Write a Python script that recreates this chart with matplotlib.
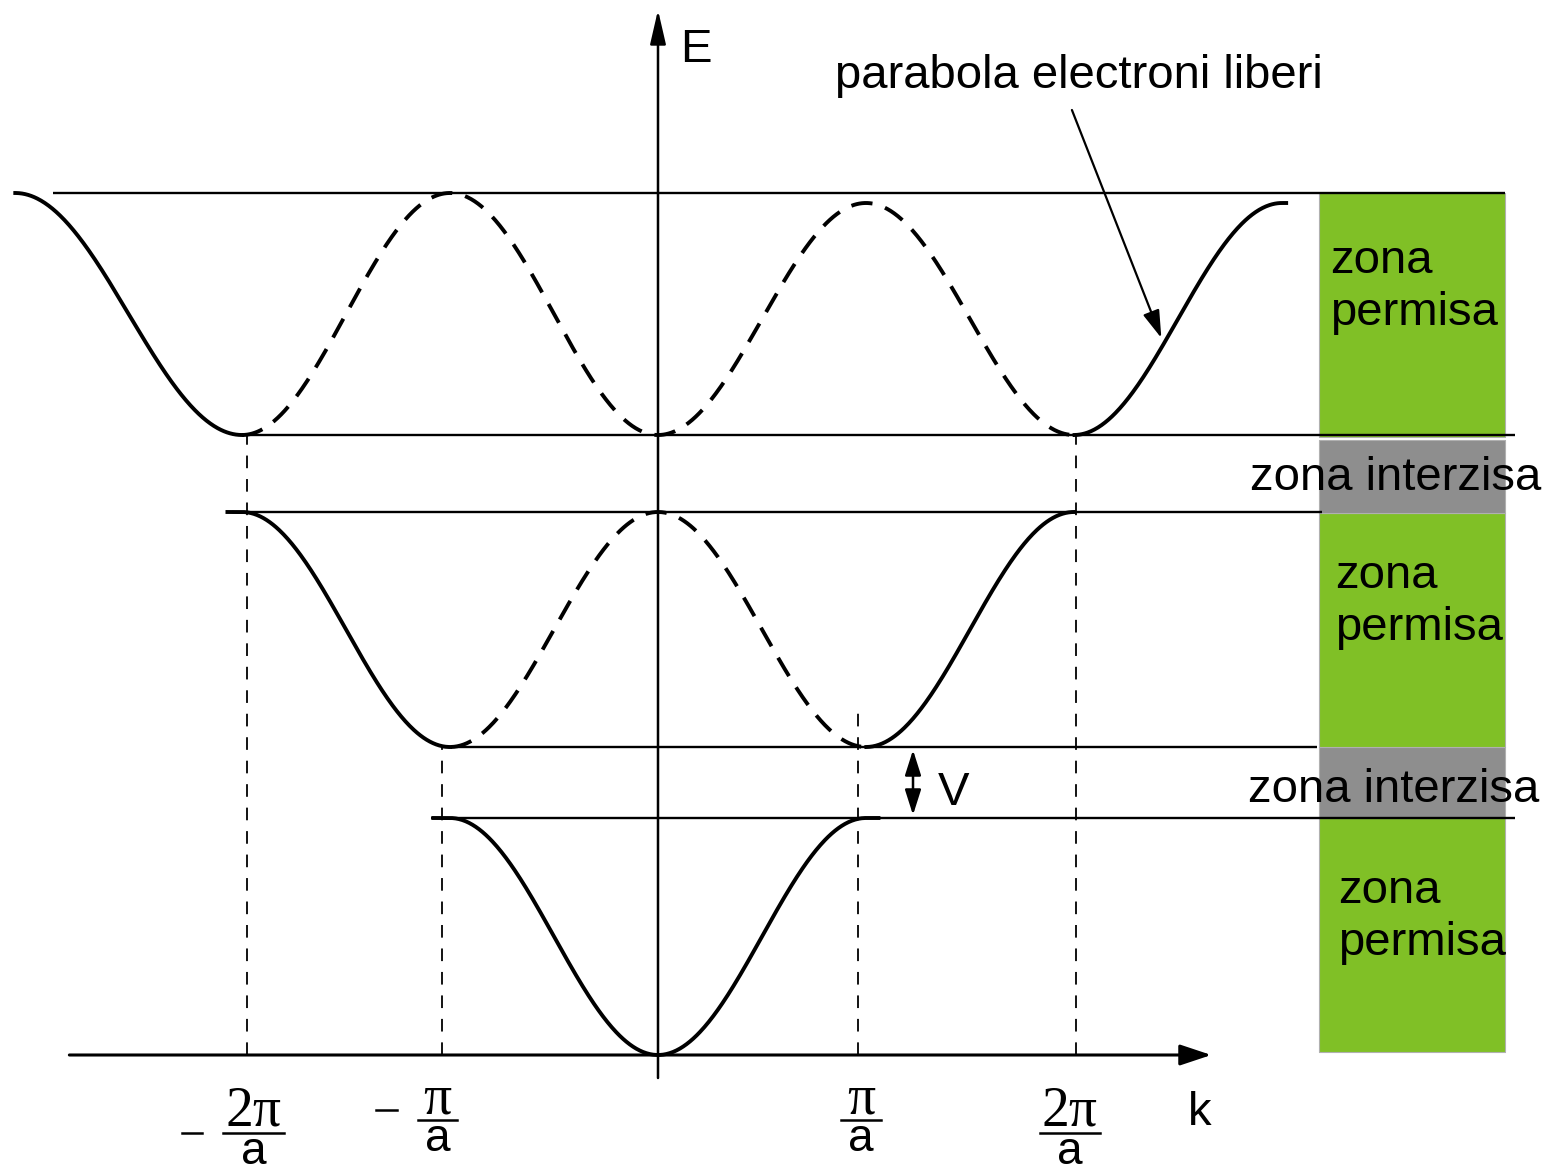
import numpy as np
import matplotlib
matplotlib.use("Agg")
import matplotlib.pyplot as plt

# band edges (arbitrary energy units)
E1_top = 2.37
E2_bot = 3.08
E2_top = 5.43
E3_bot = 6.20
E3_top = 8.62
E3_top_right = 8.52   # the sketch's right-hand peaks sit a bit lower

# tick labels under the k axis (centre of each fraction, in units of pi/a)
tick_pos = [-1.945, -1.06, 0.976, 1.98]
tick_num = ['2π', 'π', 'π', '2π']
tick_neg = [True, True, False, False]

# zones on the right: (E_low, E_high, kind)
zones_lo = [0.03, E1_top, E2_bot, E2_top - 0.01, E3_bot - 0.02]
zones_hi = [E1_top, E2_bot, E2_top - 0.01, E3_bot - 0.05, E3_top]
zones_kind = ['permisa', 'interzisa', 'permisa', 'interzisa', 'permisa']

GREEN = '#80c026'
GRAY = '#8e8e8e'
SANS = 'Liberation Sans'
SERIF = 'Liberation Serif'

fig = plt.figure(figsize=(15.46, 11.73), dpi=100)
ax = fig.add_axes([0, 0, 1, 1])
ax.set_xlim(-658 / 208, (1546 - 658) / 208)
ax.set_ylim(-1.18, 10.55)
ax.axis('off')

lw_c = 2.8
dash_c = (5.5, 3.4)

def band(k, lo, hi, up, kmin, kmax):
    # cosine band, flat beyond [kmin, kmax]
    c = np.cos(np.pi * np.clip(k, kmin, kmax))
    return lo + (hi - lo) * ((1 - c) / 2 if up else (1 + c) / 2)

# band 1 (lowest), solid
k1 = np.linspace(-1.08, 1.06, 400)
ax.plot(k1, band(k1, 0, E1_top, True, -1, 1), color='k', lw=lw_c)

# band 2
k2 = np.linspace(-2.07, 2.0, 800)
e2 = band(k2, E2_bot, E2_top, False, -2, 2)
m = k2 <= -1
ax.plot(k2[m], e2[m], color='k', lw=lw_c)
m = k2 >= 1
ax.plot(k2[m], e2[m], color='k', lw=lw_c)
m = np.abs(k2) <= 1
ax.plot(k2[m], e2[m], color='k', lw=lw_c, dashes=dash_c)

# band 3 (left solid branch drawn a little wider, as in the sketch)
t = np.linspace(0, 1, 300)
kl = -2 - 1.09 * t
ax.plot(kl, E3_bot + (E3_top - E3_bot) * (1 - np.cos(np.pi * t)) / 2, color='k', lw=lw_c)
k3 = np.linspace(-2, 3.02, 1200)
e3 = np.where(k3 > 0,
              band(k3, E3_bot, E3_top_right, True, -3, 3),
              band(k3, E3_bot, E3_top, True, -3, 3))
m = k3 >= 2
ax.plot(k3[m], e3[m], color='k', lw=lw_c)
m = np.abs(k3) <= 2
ax.plot(k3[m], e3[m], color='k', lw=lw_c, dashes=dash_c)

# horizontal band-edge lines
ax.hlines(E3_top, -2.91, 4.07, color='k', lw=1.7)
ax.hlines(E3_bot, -2.01, 4.12, color='k', lw=1.7)
ax.hlines(E2_top, -2.05, 3.19, color='k', lw=1.7)
ax.hlines(E2_bot, -1.04, 3.17, color='k', lw=1.7)
ax.hlines(E1_top, -1.09, 4.12, color='k', lw=1.7)

# vertical dashed guides
ax.plot([-1.976, -1.976], [0, E3_bot], color='k', lw=1.3, dashes=(7, 6))
ax.plot([-1.04, -1.04], [0, E2_bot], color='k', lw=1.3, dashes=(7, 6))
ax.plot([0.96, 0.96], [0, 3.45], color='k', lw=1.3, dashes=(7, 6))
ax.plot([2.01, 2.01], [0, E3_bot], color='k', lw=1.3, dashes=(7, 6))

# zones on the right
for lo, hi, kind in zip(zones_lo, zones_hi, zones_kind):
    col = GREEN if kind == 'permisa' else GRAY
    ax.fill_between([3.18, 4.07], lo, hi, color=col, lw=0.8, edgecolor='#b0b0b0', zorder=1)

# axes with arrows
ax.annotate('', xy=(2.66, 0), xytext=(-2.83, 0),
            arrowprops=dict(arrowstyle='-|>,head_length=1.2,head_width=0.4', color='k', lw=2.2,
                            shrinkA=0, shrinkB=0, mutation_scale=16))
ax.annotate('', xy=(0, 10.45), xytext=(0, -0.23),
            arrowprops=dict(arrowstyle='-|>,head_length=1.3,head_width=0.3', color='k', lw=1.8,
                            shrinkA=0, shrinkB=0, mutation_scale=16))

fs = 34
ax.text(0.106, 9.93, 'E', fontsize=fs, family=SANS, va='baseline')
ax.text(2.548, -0.70, 'k', fontsize=fs, family=SANS, va='baseline')

# tick labels as fractions
for kc, num, neg in zip(tick_pos, tick_num, tick_neg):
    big = len(num) == 2
    ybar = -0.78 if big else -0.65
    half = 0.145 if big else 0.095
    ax.plot([kc - half, kc + half], [ybar, ybar], color='k', lw=1.8)
    ax.text(kc, ybar + 0.07, num, fontsize=40, family=SERIF, ha='center', va='baseline')
    ax.text(kc, ybar - 0.31, 'a', fontsize=33, family=SANS, ha='center', va='baseline')
    if neg:
        yneg = ybar + (0.0 if big else 0.1)
        ax.plot([kc - half - 0.2, kc - half - 0.1], [yneg, yneg], color='k', lw=1.8)

# free electron parabola annotation
ax.text(0.851, 9.67, 'parabola electroni liberi', fontsize=fs, family=SANS, va='baseline')
ax.annotate('', xy=(2.42, 7.17), xytext=(1.99, 9.45),
            arrowprops=dict(arrowstyle='-|>,head_length=1.3,head_width=0.4', color='k', lw=1.6,
                            shrinkA=0, shrinkB=0, mutation_scale=13))

# V gap arrow
ax.annotate('', xy=(1.226, 3.05), xytext=(1.226, 2.40),
            arrowprops=dict(arrowstyle='<|-|>,head_length=1.1,head_width=0.35', color='k', lw=1.8,
                            shrinkA=0, shrinkB=0, mutation_scale=14))
ax.text(1.346, 2.50, 'V', fontsize=fs, family=SANS, va='baseline')

# zone texts
for x, yb in [(3.23, 7.82), (3.255, 4.67), (3.27, 1.52)]:
    ax.text(x, yb, 'zona', fontsize=fs, family=SANS, va='baseline', zorder=3)
    ax.text(x, yb - 0.52, 'permisa', fontsize=fs, family=SANS, va='baseline', zorder=3)
for x, yb in [(2.846, 5.65), (2.837, 2.53)]:
    ax.text(x, yb, 'zona interzisa', fontsize=fs, family=SANS, va='baseline', zorder=3)

fig.savefig('out.png', dpi=100, facecolor='white')
